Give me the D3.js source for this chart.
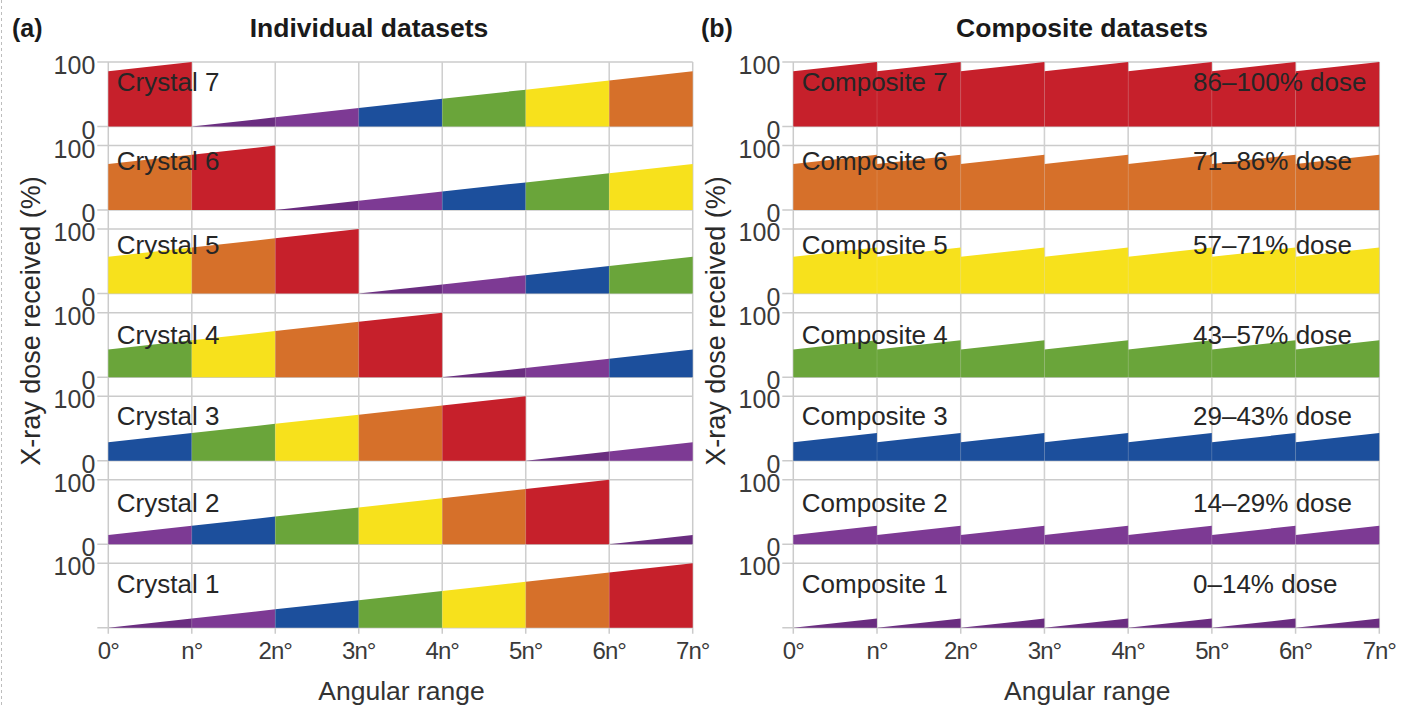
<!DOCTYPE html>
<html>
<head>
<meta charset="utf-8">
<script src="https://cdn.jsdelivr.net/npm/d3@7"></script>
<style>
  html, body { margin: 0; padding: 0; background: #fff; }
  svg { display: block; font-family: "Liberation Sans", Arial, Helvetica, sans-serif; }
</style>
</head>
<body>
<svg id="chart" width="1403" height="708"></svg>
<script>
// ---------------- DATA ----------------
const angleTicks = ["0°", "n°", "2n°", "3n°", "4n°", "5n°", "6n°", "7n°"];
const yTickLabels = ["0", "100"];
// dose bins (% of total dose)
const doseBinLow  = [0, 14.3, 28.6, 42.9, 57.1, 71.4, 85.7];
const doseBinHigh = [14.3, 28.6, 42.9, 57.1, 71.4, 85.7, 100];
const binColors = ["#6a2d80", "#7d3a94", "#1c4f9c", "#6aa53a", "#f7e11c", "#d6702a", "#c6202b"];

const crystalNames = ["Crystal 1", "Crystal 2", "Crystal 3", "Crystal 4", "Crystal 5", "Crystal 6", "Crystal 7"];
// dose bin collected in each angular wedge (0–n, n–2n, ... 6n–7n)
const crystalBins = [
  [0, 1, 2, 3, 4, 5, 6],
  [1, 2, 3, 4, 5, 6, 0],
  [2, 3, 4, 5, 6, 0, 1],
  [3, 4, 5, 6, 0, 1, 2],
  [4, 5, 6, 0, 1, 2, 3],
  [5, 6, 0, 1, 2, 3, 4],
  [6, 0, 1, 2, 3, 4, 5]
];

const compositeNames = ["Composite 1", "Composite 2", "Composite 3", "Composite 4", "Composite 5", "Composite 6", "Composite 7"];
const compositeDoseLabels = ["0–14% dose", "14–29% dose", "29–43% dose", "43–57% dose", "57–71% dose", "71–86% dose", "86–100% dose"];
const compositeBins = [
  [0, 0, 0, 0, 0, 0, 0],
  [1, 1, 1, 1, 1, 1, 1],
  [2, 2, 2, 2, 2, 2, 2],
  [3, 3, 3, 3, 3, 3, 3],
  [4, 4, 4, 4, 4, 4, 4],
  [5, 5, 5, 5, 5, 5, 5],
  [6, 6, 6, 6, 6, 6, 6]
];

// ---------------- LAYOUT ----------------
const svg = d3.select("#chart");
const W = 1403, H = 708;
const rowTopFirst = 62, rowTopLast = 563.3, rowH = 64.5;
const rowTop = d3.scaleLinear().domain([7, 1]).range([rowTopFirst, rowTopLast]);
const gridColor = "#cbcbcb";
// small vertical nudges of the row labels (rows 1..7), as placed in the original figure
const rowLabelNudge = [1.5, 4, 0.5, 3, -4, -4, 0];

// dashed left border of the figure
svg.append("line").attr("x1", 1.5).attr("x2", 1.5).attr("y1", 0).attr("y2", H)
  .attr("stroke", "#bdbdbd").attr("stroke-width", 1).attr("stroke-dasharray", "3,3");

function drawPanel(opts) {
  const g = svg.append("g");
  const x = d3.scaleLinear().domain([0, 7]).range([opts.x0, opts.x1]);
  const bottom = rowTopLast + rowH;

  // horizontal grid lines (100 and 0 of each row)
  for (let k = 1; k <= 7; k++) {
    const y = d3.scaleLinear().domain([0, 100]).range([rowTop(k) + rowH, rowTop(k)]);
    [0, 100].forEach(v => {
      g.append("line")
        .attr("x1", opts.x0 - 11).attr("x2", opts.x1)
        .attr("y1", y(v)).attr("y2", y(v))
        .attr("stroke", gridColor).attr("stroke-width", 1.5);
    });
  }
  // vertical grid lines
  d3.range(8).forEach(i => {
    g.append("line")
      .attr("x1", x(i)).attr("x2", x(i))
      .attr("y1", rowTopFirst).attr("y2", bottom + 6)
      .attr("stroke", gridColor).attr("stroke-width", 1.5);
  });

  // fills
  const area = d3.area().x(d => x(d.a)).y0(d => d.y(0)).y1(d => d.y(d.v));
  for (let k = 1; k <= 7; k++) {
    const y = d3.scaleLinear().domain([0, 100]).range([rowTop(k) + rowH, rowTop(k)]);
    const bins = opts.bins[k - 1];
    bins.forEach((b, j) => {
      const pts = [{a: j, v: doseBinLow[b], y: y}, {a: j + 1, v: doseBinHigh[b], y: y}];
      g.append("path").attr("d", area(pts)).attr("fill", binColors[b]);
    });
  }
  // faint grid lines showing through the fills
  d3.range(1, 7).forEach(i => {
    g.append("line")
      .attr("x1", x(i)).attr("x2", x(i))
      .attr("y1", rowTopFirst).attr("y2", bottom)
      .attr("stroke", "#ffffff").attr("stroke-opacity", 0.12).attr("stroke-width", 1);
  });

  // y tick labels
  for (let k = 1; k <= 7; k++) {
    const y = d3.scaleLinear().domain([0, 100]).range([rowTop(k) + rowH, rowTop(k)]);
    yTickLabels.forEach(t => {
      if (k === 1 && t === "0") return;
      g.append("text")
        .attr("x", opts.x0 - 13).attr("y", y(+t) + 12)
        .attr("text-anchor", "end").attr("font-size", 25).attr("fill", "#3a3a3a")
        .text(t);
    });
    // row labels
    const ly = rowTop(k) + 28.5 + rowLabelNudge[k - 1];
    g.append("text")
      .attr("x", opts.x0 + 8.5).attr("y", ly)
      .attr("font-size", 26).attr("fill", "#262626")
      .text(opts.names[k - 1]);
    if (opts.right) {
      g.append("text")
        .attr("x", opts.rightX).attr("y", ly)
        .attr("font-size", 26).attr("fill", "#262626")
        .text(opts.right[k - 1]);
    }
  }

  // x tick labels
  angleTicks.forEach((t, i) => {
    g.append("text")
      .attr("x", x(i)).attr("y", 659)
      .attr("text-anchor", "middle").attr("font-size", 24)
      .attr("letter-spacing", "-1px").attr("fill", "#3a3a3a")
      .text(t);
  });
  // x axis title
  g.append("text")
    .attr("x", (opts.x0 + opts.x1) / 2 + 1).attr("y", 700)
    .attr("text-anchor", "middle").attr("font-size", 26.5).attr("fill", "#333")
    .text("Angular range");
  // y axis title
  g.append("text")
    .attr("transform", `translate(${opts.x0 - 68},321) rotate(-90)`)
    .attr("text-anchor", "middle").attr("font-size", 27).attr("fill", "#2a2a2a")
    .text("X-ray dose received (%)");
  // panel letter and title
  g.append("text")
    .attr("x", opts.letterX).attr("y", 37)
    .attr("font-size", 25).attr("font-weight", "bold").attr("fill", "#1a1a1a")
    .text(opts.letter);
  g.append("text")
    .attr("x", opts.titleX).attr("y", 37)
    .attr("text-anchor", "middle").attr("font-size", 26.5).attr("font-weight", "bold").attr("fill", "#1a1a1a")
    .text(opts.title);
}

drawPanel({
  x0: 108.3, x1: 692.7, bins: crystalBins, names: crystalNames,
  letter: "(a)", letterX: 12, title: "Individual datasets", titleX: 369
});
drawPanel({
  x0: 793.3, x1: 1379.3, bins: compositeBins, names: compositeNames,
  right: compositeDoseLabels, rightX: 1193,
  letter: "(b)", letterX: 701, title: "Composite datasets", titleX: 1082
});
</script>
</body>
</html>
